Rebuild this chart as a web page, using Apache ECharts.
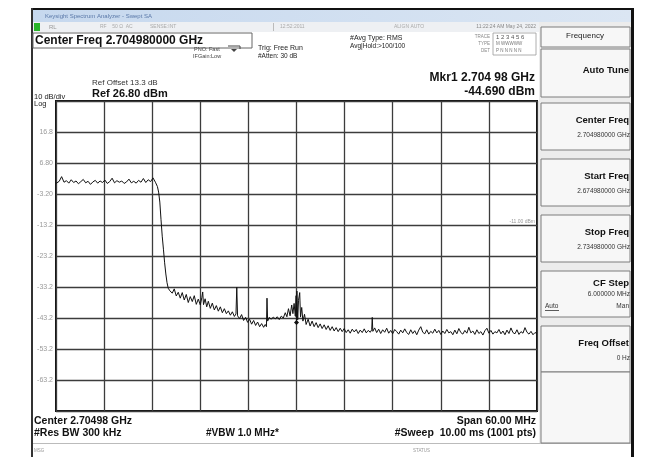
<!DOCTYPE html>
<html><head><meta charset="utf-8">
<script src="https://cdn.jsdelivr.net/npm/echarts@6/dist/echarts.min.js"></script>
<style>html,body{margin:0;padding:0;background:#fff}#c{width:664px;height:457px}</style>
</head><body><div id="c"></div>
<script>
// ---- data (frequency offset from centre in MHz, level in dBm) ----
const centerFreqGHz = 2.70498;
const spanMHz = 60;
const refLevel = 26.8;
const dbPerDiv = 10;
const yTicks = [16.8, 6.8, -3.2, -13.2, -23.2, -33.2, -43.2, -53.2, -63.2];
const yTickLabels = ['16.8', '6.80', '-3.20', '-13.2', '-23.2', '-33.2', '-43.2', '-53.2', '-63.2'];
const passbandTrace = [
  [-30.0,0.2],[-29.6,0.9],[-29.3,2.4],[-29.0,0.6],[-28.7,1.1],[-28.4,0.3],[-28.1,1.4],[-27.8,0.5],[-27.5,1.0],[-27.2,0.1],
  [-26.9,0.8],[-26.6,1.5],[-26.3,0.4],[-26.0,0.9],[-25.7,-0.1],[-25.4,0.7],[-25.1,1.2],[-24.8,0.3],[-24.5,1.0],[-24.2,0.5],
  [-23.9,1.3],[-23.6,0.2],[-23.3,0.8],[-23.0,1.9],[-22.7,0.4],[-22.4,1.1],[-22.1,0.6],[-21.8,1.0],[-21.5,0.2],[-21.2,0.7],
  [-20.9,1.6],[-20.6,0.4],[-20.3,0.9],[-20.0,0.3],[-19.7,1.2],[-19.4,0.6],[-19.1,1.8],[-18.8,0.5],[-18.5,1.4],[-18.2,0.8],
  [-17.9,2.0],[-17.6,0.6]
];
const rolloffTrace = [
  [-17.35,-0.8],[-17.2,-2.6],[-17.05,-5.8],[-16.9,-11.5],[-16.75,-16.8],[-16.6,-21.0],[-16.45,-25.4],[-16.3,-29.0],
  [-16.15,-31.8],[-16.0,-33.6],[-15.8,-34.4]
];
const stopbandTrace = [
  [-15.5,-35.2],[-15.25,-33.8],[-15.0,-36.1],[-14.75,-34.9],[-14.5,-36.8],[-14.25,-35.0],[-14.0,-37.4],[-13.75,-35.6],
  [-13.5,-38.2],[-13.25,-36.3],[-13.0,-37.9],[-12.75,-36.0],[-12.5,-38.8],[-12.25,-37.1],[-12.0,-39.0],[-11.8,-36.5],
  [-11.7,-34.8],[-11.6,-38.9],[-11.4,-37.0],[-11.2,-39.6],[-11.0,-37.8],[-10.75,-40.1],[-10.5,-38.4],[-10.25,-40.6],
  [-10.0,-39.2],[-9.75,-41.0],[-9.5,-39.6],[-9.25,-41.5],[-9.0,-40.2],[-8.75,-41.8],[-8.5,-40.9],[-8.25,-42.3],
  [-8.0,-41.2],[-7.75,-42.7],[-7.55,-41.9],[-7.45,-33.3],[-7.35,-42.5],[-7.1,-43.4],[-6.85,-42.1],[-6.6,-44.0],
  [-6.35,-43.0],[-6.1,-44.6],[-5.85,-43.6],[-5.6,-45.2],[-5.35,-44.0],[-5.1,-45.6],[-4.85,-44.5],[-4.6,-46.0],
  [-4.35,-45.0],[-4.1,-46.2],[-3.9,-45.3],[-3.75,-46.0],[-3.68,-36.8],[-3.6,-44.2],[-3.4,-43.0],[-3.15,-43.6],
  [-2.9,-42.9],[-2.65,-43.5],[-2.4,-42.8],[-2.15,-43.7],[-1.9,-42.6],[-1.65,-43.2],[-1.4,-41.5],[-1.2,-42.8],
  [-1.0,-40.2],[-0.8,-42.5],[-0.6,-39.0],[-0.45,-41.8],[-0.3,-38.5],[-0.15,-42.6],[-0.05,-36.0],[0.0,-44.69],
  [0.05,-34.5],[0.15,-43.8],[0.25,-37.5],[0.4,-35.0],[0.5,-42.9],[0.65,-39.8],[0.8,-44.2],[1.0,-42.0],
  [1.2,-45.3],[1.45,-43.6],[1.7,-45.8],[1.95,-44.2],[2.2,-46.0],[2.45,-44.7],[2.7,-46.3],[2.95,-45.1],
  [3.2,-46.6],[3.45,-45.4],[3.7,-46.9],[3.95,-45.7],[4.2,-47.2],[4.45,-46.0],[4.7,-47.4],[4.95,-46.3],
  [5.2,-47.6],[5.45,-46.5],[5.7,-47.6],[5.95,-46.6],[6.2,-47.9],[6.45,-47.0],[6.7,-48.1],[6.95,-46.8],
  [7.2,-47.7],[7.45,-46.9],[7.7,-48.2],[7.95,-47.1],[8.2,-47.9],[8.45,-46.7],[8.7,-48.0],[8.95,-47.2],
  [9.2,-47.8],[9.38,-47.0],[9.45,-43.0],[9.52,-47.5],[9.75,-46.4],[10.0,-47.9],[10.25,-46.8],[10.5,-48.2],
  [10.75,-47.0],[11.0,-47.8],[11.25,-46.5],[11.5,-48.1],[11.75,-47.2],[12.0,-48.3],[12.25,-46.9],[12.5,-47.6],
  [12.75,-48.4],[13.0,-47.1],[13.25,-48.0],[13.5,-46.7],[13.75,-47.9],[14.0,-48.5],[14.25,-47.0],[14.5,-48.2],
  [14.75,-47.3],[15.0,-48.6],[15.25,-47.1],[15.5,-46.0],[15.75,-47.8],[16.0,-48.3],[16.25,-47.0],[16.5,-48.4],
  [16.75,-47.5],[17.0,-48.1],[17.25,-46.8],[17.5,-48.0],[17.75,-47.2],[18.0,-48.5],[18.25,-47.4],[18.5,-48.2],
  [18.75,-46.9],[19.0,-48.0],[19.25,-47.6],[19.5,-48.6],[19.75,-47.1],[20.0,-48.3],[20.25,-46.6],[20.5,-47.9],
  [20.75,-48.4],[21.0,-47.2],[21.25,-48.1],[21.5,-46.2],[21.75,-48.0],[22.0,-47.4],[22.25,-48.5],[22.5,-47.0],
  [22.75,-48.2],[23.0,-47.6],[23.25,-48.7],[23.5,-47.3],[23.75,-46.5],[24.0,-48.1],[24.25,-47.2],[24.5,-48.4],
  [24.75,-47.6],[25.0,-48.0],[25.25,-46.9],[25.5,-48.3],[25.75,-47.4],[26.0,-48.6],[26.25,-47.1],[26.5,-48.2],
  [26.75,-46.4],[27.0,-47.9],[27.25,-48.3],[27.5,-47.0],[27.75,-48.5],[28.0,-47.6],[28.25,-48.1],[28.5,-46.3],
  [28.75,-47.8],[29.0,-48.4],[29.25,-47.5],[29.5,-48.6],[29.75,-47.9],[30.0,-48.2]
];
const marker1 = [0.0, -44.69];

// ---- chart ----
const traceData = passbandTrace.concat(rolloffTrace, stopbandTrace);
const FONT = '"Liberation Sans", Arial, sans-serif';
function T(x, y, text, size, o) {
  o = o || {};
  return { type: 'text', x: x, y: y, silent: true, z: 20,
    style: { text: text, font: (o.bold ? 'bold ' : '') + size + 'px ' + FONT, fill: o.fill || '#111',
      textAlign: o.align || 'left', textVerticalAlign: 'middle' } };
}
function R(x, y, w, h, fill, stroke, lw) {
  return { type: 'rect', silent: true, z: 5, shape: { x: x, y: y, width: w, height: h },
    style: { fill: fill || 'none', stroke: stroke || null, lineWidth: lw || 1 } };
}
const g = [];
// window frame
g.push({ type: 'rect', silent: true, z: 6, shape: { x: 33, y: 10, width: 598, height: 12 },
  style: { fill: { type: 'linear', x: 0, y: 0, x2: 1, y2: 0, colorStops: [{ offset: 0, color: '#c6d8ee' }, { offset: 1, color: '#dbe6f3' }] } } });
g.push(R(35, 12, 6, 7, '#4a5a70'));
g.push(T(45, 16, 'Keysight Spectrum Analyzer - Swept SA', 6, { fill: '#5a78a8' }));
g.push(R(590, 11, 13, 9, '#dde6f0', '#9aaabb', 0.8));
g.push(R(604, 11, 13, 9, '#dde6f0', '#9aaabb', 0.8));
g.push(R(618, 11, 13, 9, '#c9453c', '#a33', 0.8));
g.push(R(33, 22, 598, 10, '#eef0f3'));
g.push(R(34, 23, 6, 8, '#28b428'));
g.push(T(49, 27, 'RL', 6, { fill: '#999' }));
g.push(T(100, 27, 'RF    50 Ω  AC', 5, { fill: '#aaa' }));
g.push(T(150, 27, 'SENSE:INT', 5, { fill: '#aaa' }));
g.push(R(273, 23, 1, 8, '#bbb'));
g.push(T(280, 27, '12:52:2011', 5, { fill: '#aaa' }));
g.push(T(394, 27, 'ALIGN AUTO', 5, { fill: '#aaa' }));
g.push(T(536, 27, '11:22:24 AM May 24, 2022', 5, { fill: '#888', align: 'right' }));
// frame borders
g.push(R(31, 8, 603, 2, '#111'));
g.push(R(31, 8, 2, 449, '#333'));
g.push(R(631, 8, 3, 449, '#111'));
// header texts
g.push(R(33, 33, 219, 15, 'none', '#666', 1));
g.push(T(35, 40.5, 'Center Freq 2.704980000 GHz', 12, { bold: true }));
g.push(T(194, 49, 'PNO: Fast', 5.5, { fill: '#444' }));
g.push(T(193, 56, 'IFGain:Low', 5.5, { fill: '#444' }));
g.push({ type: 'polyline', silent: true, z: 20, shape: { points: [[228, 46], [240, 46], [240, 49]] }, style: { stroke: '#444', lineWidth: 1, fill: 'none' } });
g.push({ type: 'polygon', silent: true, z: 20, shape: { points: [[231, 49], [237, 49], [234, 52]] }, style: { fill: '#444' } });
g.push(T(258, 48, 'Trig: Free Run', 7, { fill: '#222' }));
g.push(T(258, 56, '#Atten: 30 dB', 6.5, { fill: '#222' }));
g.push(T(350, 38, '#Avg Type: RMS', 7, { fill: '#222' }));
g.push(T(350, 46, 'Avg|Hold:>100/100', 6.5, { fill: '#222' }));
g.push(T(490, 37, 'TRACE', 4.5, { fill: '#888', align: 'right' }));
g.push(T(490, 44, 'TYPE', 4.5, { fill: '#888', align: 'right' }));
g.push(T(490, 51, 'DET', 4.5, { fill: '#888', align: 'right' }));
g.push(R(493, 33, 43, 22, 'none', '#999', 0.8));
g.push(T(496, 37, '1 2 3 4 5 6', 6, { fill: '#555' }));
g.push(T(496, 44, 'M WWWWW', 4.5, { fill: '#777' }));
g.push(T(496, 51, 'P N N N N N', 4.5, { fill: '#777' }));
g.push(T(92, 83, 'Ref Offset 13.3 dB', 8, { fill: '#333' }));
g.push(T(92, 93.5, 'Ref 26.80 dBm', 11, { bold: true }));
g.push(T(34, 97, '10 dB/div', 7.5, { fill: '#222' }));
g.push(T(34, 104, 'Log', 7.5, { fill: '#222' }));
g.push(T(535, 77.5, 'Mkr1 2.704 98 GHz', 12, { bold: true, align: 'right' }));
g.push(T(535, 92, '-44.690 dBm', 12, { bold: true, align: 'right' }));
g.push(T(535, 222, '-11.00 dBm', 5, { fill: '#999', align: 'right' }));
// bottom texts
g.push(T(34, 421, 'Center 2.70498 GHz', 10.5, { bold: true }));
g.push(T(34, 433, '#Res BW 300 kHz', 10.5, { bold: true }));
g.push(T(206, 433.5, '#VBW 1.0 MHz*', 10, { bold: true }));
g.push(T(536, 421, 'Span 60.00 MHz', 10.5, { bold: true, align: 'right' }));
g.push(T(536, 433, '#Sweep  10.00 ms (1001 pts)', 10.5, { bold: true, align: 'right' }));
g.push(R(33, 443, 598, 1, '#bbb'));
g.push(T(34, 451, 'MSG', 4.5, { fill: '#999' }));
g.push(T(413, 451, 'STATUS', 4.5, { fill: '#999' }));
// right soft-key panel
g.push(R(539, 22, 92, 421, '#ececec'));
const keys = [
  { y: 27, h: 20, title: 'Frequency', center: true },
  { y: 49, h: 48, title: 'Auto Tune' },
  { y: 103, h: 47, title: 'Center Freq', val: '2.704980000 GHz' },
  { y: 159, h: 47, title: 'Start Freq', val: '2.674980000 GHz' },
  { y: 215, h: 47, title: 'Stop Freq', val: '2.734980000 GHz' },
  { y: 271, h: 46, title: 'CF Step', val: '6.000000 MHz', auto: true },
  { y: 326, h: 46, title: 'Freq Offset', val: '0 Hz' },
  { y: 372, h: 71, title: '' }
];
keys.forEach(function (k) {
  g.push(R(541, k.y, 89, k.h, '#f7f7f7', '#7d7d7d', 1));
  if (k.center) { g.push(T(585, k.y + 9, k.title, 8, { fill: '#222', align: 'center' })); return; }
  if (!k.title) return;
  let ty = k.y + 21;
  if (k.val) ty = k.auto ? k.y + 12 : k.y + 17;
  g.push(T(629, ty, k.title, 9.5, { bold: true, align: 'right' }));
  if (k.val) g.push(T(630, k.y + (k.auto ? 23.5 : 32), k.val, 6.5, { fill: '#333', align: 'right' }));
  if (k.auto) {
    g.push(T(545, k.y + 35, 'Auto', 6.5, { fill: '#333' }));
    g.push(R(545, k.y + 39, 14, 0.8, '#333'));
    g.push(T(629, k.y + 35, 'Man', 6.5, { fill: '#333', align: 'right' }));
  }
});

const chart = echarts.init(document.getElementById('c'), null, { renderer: 'canvas' });
chart.setOption({
  animation: false,
  backgroundColor: '#ffffff',
  graphic: { elements: g },
  grid: { left: 56, right: 127, top: 101, bottom: 46, show: true, borderColor: '#111', borderWidth: 2, backgroundColor: 'transparent' },
  xAxis: {
    type: 'value', min: -spanMHz / 2, max: spanMHz / 2, interval: spanMHz / 10,
    axisLine: { show: false }, axisTick: { show: false }, axisLabel: { show: false },
    splitLine: { show: true, lineStyle: { color: '#3c3c3c', width: 1.3 } }
  },
  yAxis: {
    type: 'value', min: refLevel - 10 * dbPerDiv, max: refLevel, interval: dbPerDiv,
    axisLine: { show: false }, axisTick: { show: false },
    axisLabel: {
      show: true, color: '#9a9a9a', fontSize: 7, fontFamily: FONT, margin: 3,
      formatter: function (v) {
        for (let i = 0; i < yTicks.length; i++) if (Math.abs(yTicks[i] - v) < 0.05) return yTickLabels[i];
        return '';
      }
    },
    splitLine: { show: true, lineStyle: { color: '#3c3c3c', width: 1.3 } }
  },
  series: [{
    type: 'line', data: traceData, showSymbol: false, z: 12,
    lineStyle: { color: '#111', width: 1 },
    markPoint: {
      symbol: 'diamond', symbolSize: 5, itemStyle: { color: '#111' },
      label: { show: true, position: 'top', formatter: '1', fontSize: 7, color: '#111', distance: 2 },
      data: [{ coord: marker1 }]
    }
  }]
});
</script></body></html>
